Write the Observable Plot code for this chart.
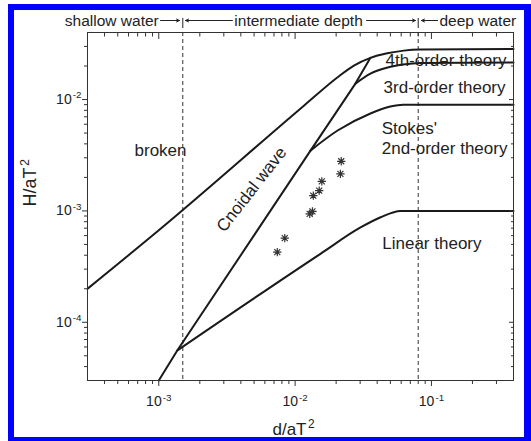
<!DOCTYPE html>
<html><head><meta charset="utf-8">
<script src="https://cdn.jsdelivr.net/npm/d3@7"></script>
<script src="https://cdn.jsdelivr.net/npm/@observablehq/plot@0.6"></script>
<style>
html,body{margin:0;padding:0;background:#fff;}
#wrap{position:relative;width:531px;height:441px;overflow:hidden;background:#fff;}
#border{position:absolute;left:8px;top:4px;width:523px;height:437px;box-sizing:border-box;border-style:solid;border-color:#0000fe;border-width:6px 7px 4px 6px;pointer-events:none;}
#chart{position:absolute;left:0;top:0;}
</style></head><body>
<div id="wrap"><div id="chart"></div><div id="border"></div></div>
<script>
// ---- data (d/aT^2, H/aT^2) ----
const breakingX = [3e-4, 1e-3, 0.0116, 0.0204, 0.027, 0.0357, 0.0474, 0.0627, 0.083, 0.4];
const breakingY = [2.0e-4, 6.7e-4, 8.8e-3, 0.0158, 0.0202, 0.0237, 0.026, 0.0275, 0.0281, 0.0285];

const fourthX = [0.0277, 0.0357, 0.0477, 0.0617, 0.083, 0.4];
const fourthY = [0.0139, 0.0171, 0.0194, 0.0206, 0.0213, 0.0215];

const stokesX = [0.01297, 0.0205, 0.0357, 0.05, 0.062, 0.4];
const stokesY = [3.48e-3, 5.27e-3, 7.5e-3, 8.65e-3, 9.0e-3, 9.0e-3];

const linearX = [0.00137, 0.01535, 0.0302, 0.0424, 0.0593, 0.4];
const linearY = [5.6e-5, 4.12e-4, 7.1e-4, 8.77e-4, 1.0e-3, 1.0e-3];

const cnoidalX = [1e-3, 0.00137, 0.01297, 0.0277, 0.0357];
const cnoidalY = [3e-5, 5.6e-5, 3.48e-3, 0.0139, 0.0237];

const obsX = [0.0074, 0.0084, 0.0128, 0.0134, 0.0136, 0.01503, 0.0157, 0.0215, 0.0218];
const obsY = [4.26e-4, 5.69e-4, 9.4e-4, 9.9e-4, 1.37e-3, 1.52e-3, 1.84e-3, 2.15e-3, 2.79e-3];

const depthLimits = [0.0015, 0.08];

const xMajor = [1e-3, 1e-2, 1e-1];
const yMajor = [1e-4, 1e-3, 1e-2];

// ---- build tables ----
const toPts = (X, Y) => X.map((x, i) => ({x, y: Y[i]}));
const curves = [
  toPts(breakingX, breakingY),
  toPts(fourthX, fourthY),
  toPts(stokesX, stokesY),
  toPts(linearX, linearY)
];
const cnoidal = toPts(cnoidalX, cnoidalY);
const obs = toPts(obsX, obsY);

const minorTicks = (lo, hi) => {
  const out = [];
  for (let e = Math.floor(Math.log10(lo)); e <= Math.ceil(Math.log10(hi)); e++)
    for (let m = 2; m <= 9; m++) { const v = m * Math.pow(10, e); if (v > lo * 1.0001 && v < hi * 0.9999) out.push(v); }
  return out;
};
const xDomain = [3e-4, 0.4], yDomain = [3e-5, 0.04];
const xMinor = minorTicks(...xDomain), yMinor = minorTicks(...yDomain);
const fmt = d => `10^${Math.round(Math.log10(d))}`;
const none = () => "";

// annotations (text placed through the scales)
const regionLabels = [
  {x: 0.046, y: 0.0224, t: "4th-order theory"},
  {x: 0.0446, y: 0.0129, t: "3rd-order theory"},
  {x: 0.0432, y: 5.46e-3, t: "Stokes'"},
  {x: 0.0432, y: 3.6e-3, t: "2nd-order theory"},
  {x: 0.0436, y: 5.07e-4, t: "Linear theory"}
];
const headerEnd = [{x: 1.0e-3, t: "shallow water"}];
const headerMid = [{x: 0.0106, t: "intermediate depth"}];
const headerStart = [{x: 0.1146, t: "deep water"}];
const headerArrows = [
  {x1: 1.03e-3, x2: 1.42e-3},
  {x1: 3.47e-3, x2: 1.57e-3},
  {x1: 0.0334, x2: 0.0764},
  {x1: 0.111, x2: 0.0845}
];

// 8-armed asterisk
const star = {
  draw(ctx, size) {
    const r = Math.sqrt(size) * 0.56, d = r * 0.72;
    ctx.moveTo(0, -r); ctx.lineTo(0, r);
    ctx.moveTo(-r, 0); ctx.lineTo(r, 0);
    ctx.moveTo(-d, -d); ctx.lineTo(d, d);
    ctx.moveTo(-d, d); ctx.lineTo(d, -d);
  }
};

const ink = "#1a1a1a";
const headerOpts = {x: "x", text: "t", frameAnchor: "top", lineAnchor: "middle", dy: -11, fontSize: 15.5, fill: "#222"};
const plot = Plot.plot({
  width: 531, height: 441,
  marginLeft: 87, marginRight: 18, marginTop: 32, marginBottom: 61,
  style: {fontFamily: "'Liberation Sans', Arial, sans-serif", fontSize: "14px", color: "#222", background: "white"},
  x: {type: "log", domain: xDomain},
  y: {type: "log", domain: yDomain},
  marks: [
    Plot.ruleX(depthLimits, {stroke: "#333", strokeWidth: 1, strokeDasharray: "4,3"}),
    ...curves.map(c => Plot.line(c, {x: "x", y: "y", stroke: ink, strokeWidth: 2, curve: "monotone-x"})),
    Plot.line(cnoidal, {x: "x", y: "y", stroke: ink, strokeWidth: 2}),
    Plot.dot(obs, {x: "x", y: "y", symbol: star, r: 4.2, stroke: "#333", strokeWidth: 1.2}),
    Plot.frame({stroke: "#333", strokeWidth: 1}),
    // axes
    Plot.axisX(xMajor, {anchor: "bottom", tickSize: 6, tickPadding: 10, tickFormat: fmt, label: null, stroke: "#333"}),
    Plot.axisX(xMinor, {anchor: "bottom", tickSize: 4, tickFormat: none, label: null, stroke: "#333"}),
    Plot.axisX(xMajor, {anchor: "top", tickSize: -6, tickFormat: none, label: null, stroke: "#333"}),
    Plot.axisX(xMinor, {anchor: "top", tickSize: -3.5, tickFormat: none, label: null, stroke: "#333"}),
    Plot.axisY(yMajor, {anchor: "left", tickSize: 5, tickPadding: 1, tickFormat: fmt, label: null, stroke: "#333"}),
    Plot.axisY(yMinor, {anchor: "left", tickSize: 3, tickFormat: none, label: null, stroke: "#333"}),
    Plot.axisY(yMajor, {anchor: "right", tickSize: -5, tickFormat: none, label: null, stroke: "#333"}),
    Plot.axisY(yMinor, {anchor: "right", tickSize: -3, tickFormat: none, label: null, stroke: "#333"}),
    // axis titles
    Plot.text(["H/aT^2"], {frameAnchor: "left", dx: -57, rotate: -90, lineAnchor: "middle", fontSize: 18, fill: "#222"}),
    Plot.text(["d/aT^2"], {frameAnchor: "bottom", dx: -7, dy: 49, lineAnchor: "middle", fontSize: 17, fill: "#222"}),
    // region labels
    Plot.text(regionLabels, {x: "x", y: "y", text: "t", textAnchor: "start", fontSize: 17, fill: "#222"}),
    Plot.text([{x: 1.03e-3, y: 3.48e-3}], {x: "x", y: "y", text: () => "broken", fontSize: 17, fill: "#222"}),
    Plot.text([{x: 4.79e-3, y: 1.56e-3}], {x: "x", y: "y", text: () => "Cnoidal wave", rotate: -52, fontSize: 17, fill: "#222"}),
    // header
    Plot.text(headerEnd, {...headerOpts, textAnchor: "end"}),
    Plot.text(headerMid, {...headerOpts, textAnchor: "middle"}),
    Plot.text(headerStart, {...headerOpts, textAnchor: "start"}),
    Plot.arrow(headerArrows, {x1: "x1", x2: "x2", y1: () => yDomain[1], y2: () => yDomain[1], dy: -12, headLength: 5, headAngle: 50, stroke: "#222", strokeWidth: 1}),
    Plot.ruleX(depthLimits, {insetTop: -14, insetBottom: 352, stroke: "#222", strokeWidth: 1})
  ]
});
document.getElementById("chart").appendChild(plot);

// tick label size + superscripts
plot.querySelectorAll("text").forEach(t => {
  if (t.querySelector("tspan")) return;
  const s = t.textContent, i = s.indexOf("^");
  if (i < 0) return;
  if (s.startsWith("10^")) t.setAttribute("font-size", "14");
  const fs = parseFloat(getComputedStyle(t).fontSize) || 14;
  t.textContent = s.slice(0, i);
  const sup = document.createElementNS("http://www.w3.org/2000/svg", "tspan");
  sup.setAttribute("font-size", (fs * 0.7).toFixed(1));
  sup.setAttribute("dx", (fs * 0.08).toFixed(1));
  sup.setAttribute("dy", (-fs * 0.42).toFixed(1));
  sup.textContent = s.slice(i + 1);
  t.appendChild(sup);
});
</script>
</body></html>
